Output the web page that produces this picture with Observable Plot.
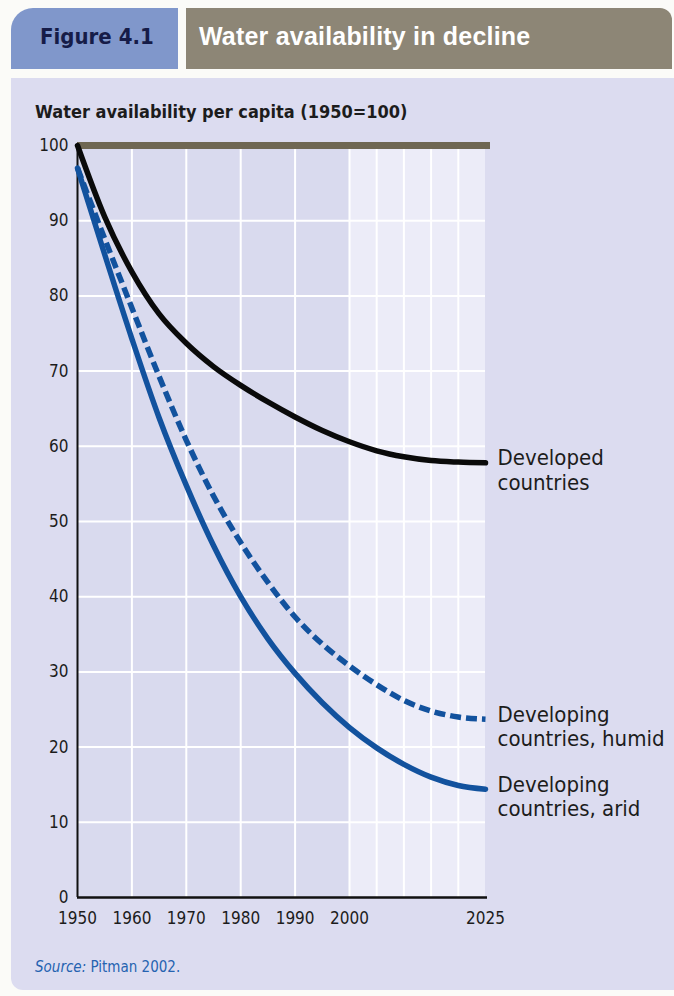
<!DOCTYPE html>
<html>
<head>
<meta charset="utf-8">
<script src="https://cdn.jsdelivr.net/npm/d3@7"></script>
<script src="https://cdn.jsdelivr.net/npm/@observablehq/plot@0.6"></script>
<style>
  html, body { margin: 0; padding: 0; background: #fbfbf8; }
  #page { position: relative; width: 674px; height: 996px; overflow: hidden; }
  .cond { font-family: "Liberation Sans Narrow", "DejaVu Sans Condensed", "Arial Narrow", sans-serif; }
  #tab1 { position: absolute; left: 11px; top: 8px; width: 167px; height: 61px; background: #8097cb; border-top-left-radius: 22px; }
  #tab1 span { position: absolute; left: 29px; top: 16px; font-size: 22px; font-weight: bold; color: #161c48; }
  #tab2 { position: absolute; left: 186px; top: 8px; width: 486px; height: 61px; background: #8d8676; border-top-right-radius: 12px; }
  #tab2 span { position: absolute; left: 13px; top: 14px; font-family: "Liberation Sans", Arial, sans-serif; font-size: 25px; font-weight: bold; color: #ffffff; letter-spacing: 0.2px; }
  #panel { position: absolute; left: 11px; top: 78px; width: 680px; height: 912px; background: #dcdcf0; border-bottom-left-radius: 12px; }
  #ytitle { position: absolute; left: 35px; top: 101px; font-size: 18px; font-weight: bold; color: #1c1c1c; }
  #source { position: absolute; left: 35px; top: 958px; font-size: 15px; color: #2563b0; }
  #chart { position: absolute; left: 0; top: 0; }
</style>
</head>
<body>
<div id="page">
  <div id="tab1"><span class="cond">Figure 4.1</span></div>
  <div id="tab2"><span>Water availability in decline</span></div>
  <div id="panel"></div>
  <div id="ytitle" class="cond">Water availability per capita (1950=100)</div>
  <div id="source" class="cond"><i>Source:</i> Pitman 2002.</div>
  <div id="chart"></div>
</div>
<script>
// ---- Data ----
const years      = [1950, 1955, 1960, 1965, 1970, 1975, 1980, 1985, 1990, 1995, 2000, 2005, 2010, 2015, 2020, 2025];
const developed  = [100, 90.5, 83.2, 77.6, 73.7, 70.6, 68.1, 65.9, 63.9, 62.1, 60.6, 59.4, 58.6, 58.1, 57.9, 57.8];
const humid      = [97, 87.6, 78.4, 69.3, 60.8, 53.4, 47.2, 41.9, 37.3, 33.7, 30.8, 28.3, 26.2, 24.8, 24.0, 23.7];
const arid       = [97, 85.5, 74.3, 63.8, 54.8, 46.8, 40.0, 34.4, 29.8, 25.9, 22.6, 19.9, 17.7, 16.0, 14.9, 14.4];

const seriesLabels = ["Developed\ncountries", "Developing\ncountries, humid", "Developing\ncountries, arid"];
const xTicks   = [1950, 1960, 1970, 1980, 1990, 2000, 2025];
const yTicks   = [0, 10, 20, 30, 40, 50, 60, 70, 80, 90, 100];
const gridY    = [10, 20, 30, 40, 50, 60, 70, 80, 90];
const gridX    = [1960, 1970, 1980, 1990, 2000, 2005, 2010, 2015, 2020];
const bandFrom = [1950, 2000];
const bandTo   = [2000, 2025];
const bandFill = ["#d9daee", "#ececf8"];

// ---- Tables built from the arrays ----
const toRows = (vals, key) => years.map((y, i) => ({year: y, value: vals[i], key}));
const devRows = toRows(developed, "dev");
const humRows = toRows(humid, "hum");
const aridRows = toRows(arid, "arid");
const bands = bandFrom.map((d, i) => ({x1: d, x2: bandTo[i], fill: bandFill[i]}));
const last = years.length - 1;
const labelRows = [
  {year: years[last], value: developed[last], text: seriesLabels[0]},
  {year: years[last], value: humid[last], text: seriesLabels[1]},
  {year: years[last], value: arid[last], text: seriesLabels[2]}
];

const condFont = '"Liberation Sans Narrow", "DejaVu Sans Condensed", "Arial Narrow", sans-serif';

const chart = Plot.plot({
  width: 674,
  height: 945,
  marginLeft: 77,
  marginRight: 189,
  marginTop: 145,
  marginBottom: 48,
  style: {background: "transparent", fontFamily: condFont, color: "#1c1c1c"},
  x: {domain: [1950, 2025]},
  y: {domain: [0, 100]},
  marks: [
    Plot.rect(bands, {x1: "x1", x2: "x2", y1: 0, y2: 100, fill: "fill"}),
    Plot.ruleY(gridY, {stroke: "#ffffff", strokeWidth: 2}),
    Plot.ruleX(gridX, {stroke: "#ffffff", strokeWidth: 2}),
    Plot.ruleY([100], {stroke: "#6f6753", strokeWidth: 7, insetRight: -5}),
    Plot.ruleX([1950], {y1: 0, y2: 100, stroke: "#111", strokeWidth: 2}),
    Plot.ruleY([0], {stroke: "#111", strokeWidth: 2.5, insetRight: -2}),
    Plot.line(devRows, {x: "year", y: "value", stroke: "#0a0a0a", strokeWidth: 5.5, curve: "monotone-x"}),
    Plot.line(humRows, {x: "year", y: "value", stroke: "#12529e", strokeWidth: 5.5, strokeDasharray: "11,5", strokeLinecap: "butt", curve: "monotone-x"}),
    Plot.line(aridRows, {x: "year", y: "value", stroke: "#12529e", strokeWidth: 5.5, curve: "monotone-x"}),
    Plot.axisX({ticks: xTicks, tickFormat: d => String(d), tickSize: 0, tickPadding: 14, fontSize: 17, fill: "#1c1c1c", label: null}),
    Plot.axisY({ticks: yTicks, tickSize: 0, tickPadding: 9, fontSize: 17, fill: "#1c1c1c", label: null}),
    Plot.text(labelRows, {x: "year", y: "value", text: "text", textAnchor: "start", lineAnchor: "top", dx: 12, dy: -15, fontSize: 22, lineHeight: 1.12, fill: "#1c1c1c"})
  ]
});
document.getElementById("chart").appendChild(chart);
</script>
</body>
</html>
